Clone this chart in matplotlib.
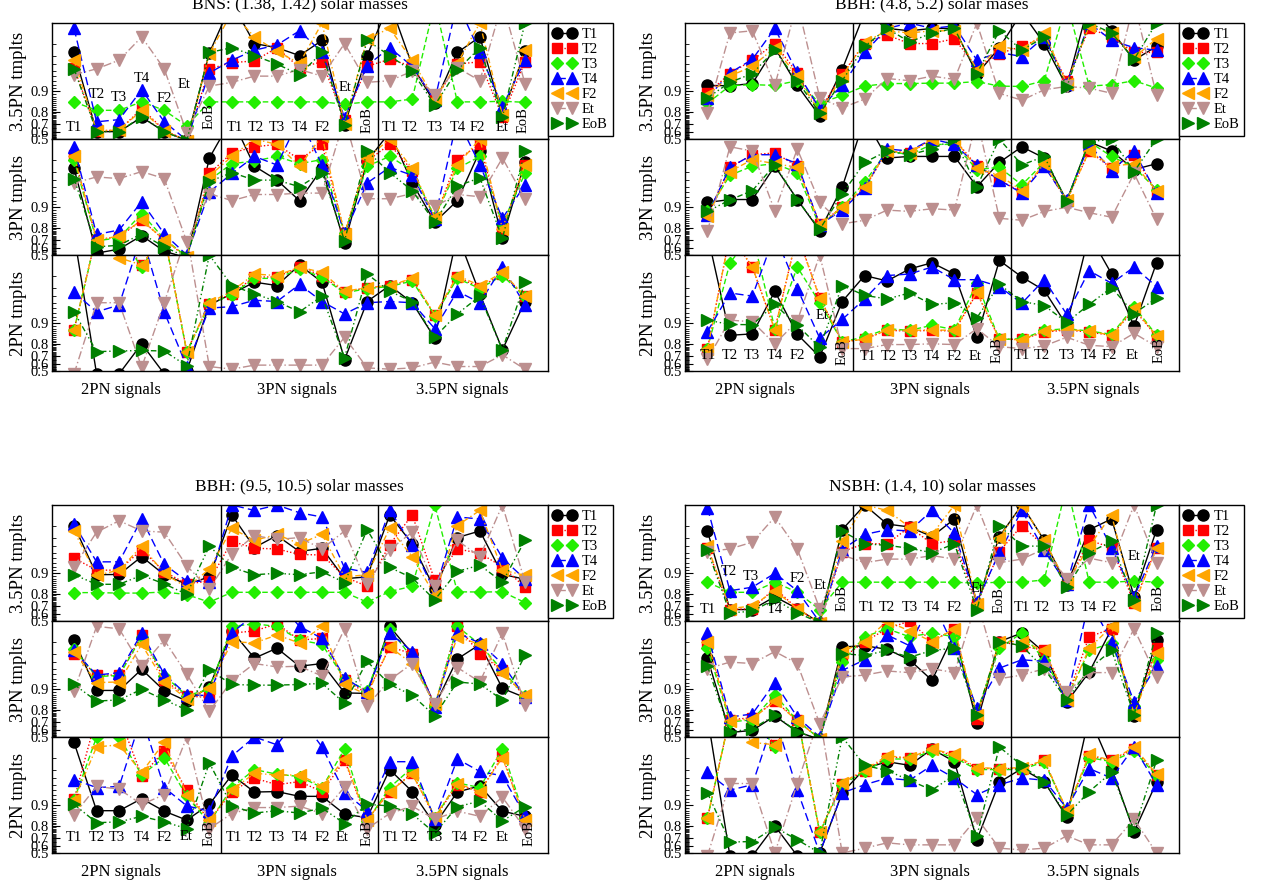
import matplotlib
matplotlib.use('Agg')
import matplotlib.pyplot as plt
import numpy as np
from matplotlib.ticker import FixedLocator, FixedFormatter
from matplotlib.transforms import blended_transform_factory

plt.rcParams['font.family'] = ['Liberation Serif', 'DejaVu Serif']

templates = ['T1', 'T2', 'T3', 'T4', 'F2', 'Et', 'EoB']
row_names = ['3.5PN tmplts', '3PN tmplts', '2PN tmplts']
signal_names = ['2PN signals', '3PN signals', '3.5PN signals']
titles = ['BNS: (1.38, 1.42) solar masses', 'BBH: (4.8, 5.2) solar mases',
          'BBH: (9.5, 10.5) solar masses', 'NSBH: (1.4, 10) solar masses']

# match values, one list per template, 21 signals (2PN x7, 3PN x7, 3.5PN x7)
bns_35 = [
    [0.973, 0.61, 0.61, 0.76, 0.61, 0.48, 0.9725, 0.995, 0.980, 0.977, 0.970, 0.982, 0.69, 0.97, 0.995, 0.958, 0.85, 0.973, 0.984, 0.78, 0.974],
    [0.955, 0.62, 0.63, 0.82, 0.63, 0.47, 0.953, 0.962, 0.964, 0.977, 0.955, 0.963, 0.74, 0.957, 0.966, 0.957, 0.865, 0.96, 0.963, 0.765, 0.963],
    [0.857, 0.81, 0.81, 0.857, 0.81, 0.68, 0.857, 0.857, 0.857, 0.857, 0.857, 0.857, 0.845, 0.857, 0.857, 0.87, 0.995, 0.857, 0.857, 0.86, 0.855],
    [0.988, 0.72, 0.74, 0.905, 0.72, 0.48, 0.946, 0.965, 0.975, 0.979, 0.987, 0.973, 0.755, 0.958, 0.977, 0.957, 0.865, 0.995, 0.973, 0.83, 0.965],
    [0.965, 0.62, 0.63, 0.81, 0.62, 0.47, 0.972, 0.993, 0.984, 0.974, 0.961, 0.99, 0.70, 0.983, 0.988, 0.965, 0.87, 0.961, 0.99, 0.775, 0.975],
    [0.943, 0.953, 0.965, 0.984, 0.953, 0.595, 0.916, 0.926, 0.94, 0.94, 0.952, 0.94, 0.98, 0.926, 0.93, 0.949, 0.885, 0.955, 0.93, 0.995, 0.923],
    [0.953, 0.61, 0.61, 0.765, 0.61, 0.47, 0.973, 0.977, 0.97, 0.96, 0.943, 0.973, 0.69, 0.982, 0.97, 0.949, 0.84, 0.951, 0.977, 0.76, 0.99],
]
bns_3 = [
    [0.973, 0.53, 0.59, 0.74, 0.56, 0.45, 0.981, 0.995, 0.975, 0.96, 0.92, 0.973, 0.665, 0.979, 0.992, 0.956, 0.835, 0.92, 0.985, 0.715, 0.978],
    [0.983, 0.70, 0.73, 0.845, 0.70, 0.46, 0.968, 0.984, 0.987, 0.988, 0.98, 0.988, 0.76, 0.979, 0.988, 0.971, 0.855, 0.98, 0.988, 0.795, 0.976],
    [0.98, 0.69, 0.72, 0.876, 0.71, 0.47, 0.96, 0.977, 0.979, 0.982, 0.977, 0.98, 0.76, 0.975, 0.982, 0.971, 0.86, 0.973, 0.982, 0.825, 0.968],
    [0.987, 0.75, 0.785, 0.917, 0.755, 0.5, 0.94, 0.968, 0.982, 0.976, 0.995, 0.976, 0.76, 0.956, 0.974, 0.966, 0.85, 0.995, 0.976, 0.855, 0.953],
    [0.982, 0.70, 0.735, 0.845, 0.70, 0.47, 0.965, 0.982, 0.99, 0.988, 0.975, 0.991, 0.75, 0.981, 0.99, 0.973, 0.86, 0.976, 0.99, 0.795, 0.976],
    [0.956, 0.964, 0.962, 0.97, 0.962, 0.68, 0.937, 0.92, 0.935, 0.935, 0.938, 0.938, 0.995, 0.925, 0.925, 0.937, 0.903, 0.935, 0.93, 0.981, 0.925],
    [0.962, 0.62, 0.64, 0.755, 0.62, 0.46, 0.958, 0.969, 0.96, 0.96, 0.95, 0.969, 0.69, 0.985, 0.969, 0.943, 0.835, 0.951, 0.963, 0.715, 0.985],
]
bns_2 = [
    [0.995, 0.45, 0.45, 0.80, 0.45, 0.5, 0.946, 0.963, 0.975, 0.972, 0.986, 0.975, 0.66, 0.952, 0.972, 0.95, 0.835, 0.995, 0.963, 0.755, 0.952],
    [0.875, 0.995, 0.995, 0.986, 0.995, 0.74, 0.948, 0.963, 0.979, 0.979, 0.985, 0.98, 0.965, 0.97, 0.972, 0.977, 0.924, 0.979, 0.97, 0.981, 0.96],
    [0.873, 0.995, 0.995, 0.985, 0.995, 0.735, 0.947, 0.962, 0.978, 0.978, 0.984, 0.979, 0.964, 0.969, 0.971, 0.976, 0.923, 0.978, 0.969, 0.98, 0.959],
    [0.965, 0.932, 0.946, 0.995, 0.932, 0.57, 0.94, 0.943, 0.954, 0.952, 0.973, 0.952, 0.927, 0.95, 0.952, 0.95, 0.88, 0.966, 0.95, 0.985, 0.946],
    [0.875, 0.995, 0.989, 0.986, 0.995, 0.74, 0.95, 0.966, 0.981, 0.98, 0.985, 0.982, 0.966, 0.97, 0.972, 0.978, 0.925, 0.98, 0.972, 0.982, 0.96],
    [0.45, 0.95, 0.95, 0.56, 0.95, 0.995, 0.57, 0.53, 0.59, 0.59, 0.59, 0.59, 0.84, 0.55, 0.53, 0.55, 0.63, 0.57, 0.57, 0.71, 0.53],
    [0.932, 0.74, 0.745, 0.75, 0.745, 0.58, 0.99, 0.972, 0.963, 0.952, 0.932, 0.96, 0.68, 0.981, 0.966, 0.952, 0.84, 0.927, 0.96, 0.755, 0.975],
]

b48_35 = [
    [0.918, 0.917, 0.923, 0.977, 0.918, 0.77, 0.952, 0.993, 0.988, 0.987, 0.988, 0.988, 0.944, 0.977, 0.993, 0.98, 0.915, 0.995, 0.987, 0.965, 0.978],
    [0.893, 0.945, 0.965, 0.98, 0.946, 0.81, 0.944, 0.98, 0.985, 0.98, 0.98, 0.983, 0.955, 0.972, 0.978, 0.984, 0.93, 0.988, 0.984, 0.973, 0.973],
    [0.85, 0.917, 0.92, 0.918, 0.93, 0.85, 0.885, 0.916, 0.923, 0.923, 0.924, 0.924, 0.928, 0.916, 0.915, 0.93, 0.995, 0.916, 0.92, 0.93, 0.91],
    [0.875, 0.946, 0.966, 0.988, 0.947, 0.82, 0.918, 0.973, 0.988, 0.99, 0.988, 0.989, 0.965, 0.973, 0.969, 0.984, 0.923, 0.99, 0.982, 0.977, 0.975],
    [0.885, 0.94, 0.957, 0.977, 0.94, 0.79, 0.94, 0.981, 0.987, 0.986, 0.987, 0.987, 0.952, 0.978, 0.975, 0.986, 0.923, 0.989, 0.986, 0.968, 0.983],
    [0.795, 0.986, 0.987, 0.918, 0.995, 0.876, 0.825, 0.87, 0.935, 0.93, 0.94, 0.933, 0.99, 0.893, 0.865, 0.905, 0.915, 0.91, 0.893, 0.995, 0.885],
    [0.875, 0.926, 0.945, 0.975, 0.93, 0.79, 0.93, 0.978, 0.988, 0.981, 0.986, 0.988, 0.945, 0.987, 0.975, 0.984, 0.913, 0.99, 0.986, 0.966, 0.99],
]
b48_3 = [
    [0.915, 0.923, 0.923, 0.975, 0.923, 0.78, 0.949, 0.995, 0.981, 0.982, 0.982, 0.982, 0.95, 0.978, 0.987, 0.981, 0.92, 0.989, 0.985, 0.972, 0.977],
    [0.87, 0.974, 0.983, 0.984, 0.975, 0.825, 0.9, 0.947, 0.985, 0.984, 0.99, 0.99, 0.975, 0.96, 0.94, 0.976, 0.92, 0.985, 0.973, 0.983, 0.94],
    [0.885, 0.966, 0.975, 0.977, 0.969, 0.81, 0.9, 0.957, 0.985, 0.983, 0.988, 0.988, 0.972, 0.974, 0.953, 0.978, 0.92, 0.989, 0.982, 0.974, 0.945],
    [0.87, 0.974, 0.983, 0.983, 0.977, 0.82, 0.89, 0.947, 0.986, 0.985, 0.99, 0.988, 0.976, 0.96, 0.938, 0.975, 0.921, 0.988, 0.971, 0.985, 0.938],
    [0.865, 0.97, 0.98, 0.977, 0.974, 0.823, 0.9, 0.95, 0.985, 0.984, 0.99, 0.99, 0.973, 0.966, 0.943, 0.977, 0.921, 0.985, 0.975, 0.977, 0.942],
    [0.775, 0.987, 0.985, 0.887, 0.986, 0.915, 0.825, 0.845, 0.89, 0.885, 0.895, 0.89, 0.995, 0.855, 0.845, 0.885, 0.9, 0.88, 0.86, 0.968, 0.85],
    [0.885, 0.922, 0.943, 0.976, 0.922, 0.79, 0.936, 0.978, 0.985, 0.983, 0.986, 0.99, 0.95, 0.99, 0.976, 0.982, 0.918, 0.989, 0.99, 0.97, 0.99],
]
b48_2 = [
    [0.995, 0.85, 0.857, 0.966, 0.855, 0.69, 0.952, 0.98, 0.976, 0.984, 0.987, 0.981, 0.84, 0.988, 0.979, 0.967, 0.893, 0.995, 0.981, 0.89, 0.987],
    [0.76, 0.995, 0.985, 0.876, 0.995, 0.958, 0.81, 0.83, 0.873, 0.87, 0.873, 0.87, 0.964, 0.83, 0.828, 0.865, 0.875, 0.865, 0.85, 0.937, 0.845],
    [0.765, 0.987, 0.995, 0.88, 0.985, 0.95, 0.815, 0.84, 0.88, 0.873, 0.893, 0.876, 0.974, 0.828, 0.83, 0.873, 0.88, 0.87, 0.855, 0.943, 0.85],
    [0.868, 0.964, 0.96, 0.995, 0.969, 0.835, 0.912, 0.956, 0.98, 0.981, 0.985, 0.977, 0.977, 0.971, 0.949, 0.977, 0.926, 0.983, 0.974, 0.985, 0.971],
    [0.76, 0.995, 0.985, 0.876, 0.995, 0.957, 0.815, 0.828, 0.875, 0.873, 0.875, 0.873, 0.965, 0.83, 0.825, 0.87, 0.876, 0.87, 0.85, 0.94, 0.845],
    [0.665, 0.91, 0.905, 0.8, 0.907, 0.99, 0.765, 0.765, 0.795, 0.795, 0.8, 0.795, 0.88, 0.78, 0.765, 0.785, 0.84, 0.79, 0.78, 0.86, 0.78],
    [0.91, 0.896, 0.895, 0.947, 0.893, 0.775, 0.972, 0.961, 0.956, 0.964, 0.947, 0.95, 0.917, 0.973, 0.952, 0.945, 0.903, 0.947, 0.97, 0.928, 0.957],
]

b95_35 = [
    [0.98, 0.895, 0.896, 0.943, 0.895, 0.855, 0.887, 0.986, 0.958, 0.972, 0.952, 0.957, 0.88, 0.887, 0.986, 0.963, 0.83, 0.97, 0.976, 0.896, 0.878],
    [0.94, 0.91, 0.91, 0.955, 0.905, 0.857, 0.87, 0.966, 0.957, 0.956, 0.947, 0.946, 0.887, 0.845, 0.962, 0.986, 0.873, 0.956, 0.949, 0.92, 0.84],
    [0.808, 0.808, 0.805, 0.805, 0.812, 0.795, 0.735, 0.81, 0.81, 0.81, 0.81, 0.81, 0.81, 0.735, 0.815, 0.845, 0.99, 0.813, 0.812, 0.813, 0.732],
    [0.981, 0.932, 0.932, 0.984, 0.926, 0.87, 0.868, 0.99, 0.988, 0.99, 0.987, 0.985, 0.916, 0.903, 0.988, 0.962, 0.813, 0.985, 0.984, 0.94, 0.878],
    [0.976, 0.893, 0.91, 0.96, 0.9, 0.838, 0.913, 0.978, 0.967, 0.973, 0.963, 0.973, 0.887, 0.895, 0.978, 0.943, 0.79, 0.98, 0.988, 0.91, 0.893],
    [0.92, 0.975, 0.983, 0.976, 0.975, 0.922, 0.83, 0.948, 0.972, 0.968, 0.97, 0.956, 0.976, 0.857, 0.955, 0.975, 0.845, 0.967, 0.943, 0.99, 0.865],
    [0.895, 0.855, 0.855, 0.893, 0.857, 0.797, 0.96, 0.918, 0.895, 0.9, 0.895, 0.905, 0.863, 0.977, 0.918, 0.883, 0.755, 0.906, 0.924, 0.865, 0.967],
]
b95_3 = [
    [0.981, 0.896, 0.896, 0.949, 0.895, 0.851, 0.907, 0.986, 0.965, 0.975, 0.954, 0.958, 0.887, 0.885, 0.988, 0.97, 0.825, 0.964, 0.978, 0.903, 0.868],
    [0.97, 0.938, 0.938, 0.984, 0.927, 0.873, 0.87, 0.985, 0.986, 0.989, 0.981, 0.982, 0.927, 0.885, 0.976, 0.97, 0.83, 0.988, 0.97, 0.947, 0.87],
    [0.974, 0.935, 0.937, 0.983, 0.937, 0.876, 0.9, 0.988, 0.989, 0.988, 0.981, 0.978, 0.93, 0.895, 0.987, 0.965, 0.825, 0.988, 0.978, 0.947, 0.876],
    [0.973, 0.938, 0.943, 0.985, 0.94, 0.88, 0.876, 0.985, 0.992, 0.995, 0.988, 0.982, 0.932, 0.89, 0.985, 0.972, 0.82, 0.985, 0.979, 0.958, 0.87],
    [0.972, 0.92, 0.922, 0.978, 0.923, 0.863, 0.903, 0.98, 0.979, 0.984, 0.979, 0.988, 0.915, 0.88, 0.976, 0.958, 0.835, 0.983, 0.978, 0.942, 0.88],
    [0.894, 0.988, 0.987, 0.954, 0.981, 0.94, 0.79, 0.925, 0.958, 0.953, 0.954, 0.936, 0.987, 0.825, 0.927, 0.958, 0.838, 0.952, 0.922, 0.985, 0.83],
    [0.915, 0.851, 0.857, 0.9, 0.857, 0.8, 0.948, 0.915, 0.913, 0.913, 0.915, 0.918, 0.84, 0.961, 0.915, 0.878, 0.755, 0.922, 0.916, 0.857, 0.968],
]
b95_2 = [
    [0.988, 0.88, 0.88, 0.92, 0.878, 0.835, 0.903, 0.964, 0.936, 0.937, 0.926, 0.926, 0.865, 0.848, 0.97, 0.937, 0.808, 0.936, 0.948, 0.878, 0.855],
    [0.918, 0.995, 0.995, 0.963, 0.984, 0.94, 0.83, 0.937, 0.96, 0.95, 0.955, 0.937, 0.978, 0.835, 0.937, 0.966, 0.848, 0.95, 0.937, 0.981, 0.835],
    [0.916, 0.99, 0.99, 0.964, 0.98, 0.926, 0.82, 0.945, 0.97, 0.965, 0.962, 0.945, 0.985, 0.83, 0.945, 0.972, 0.848, 0.953, 0.945, 0.985, 0.845],
    [0.958, 0.945, 0.947, 0.995, 0.945, 0.898, 0.878, 0.981, 0.99, 0.987, 0.995, 0.986, 0.935, 0.88, 0.977, 0.977, 0.84, 0.979, 0.968, 0.963, 0.86],
    [0.916, 0.986, 0.987, 0.967, 0.988, 0.93, 0.835, 0.94, 0.966, 0.964, 0.964, 0.948, 0.979, 0.838, 0.937, 0.965, 0.855, 0.952, 0.937, 0.98, 0.838],
    [0.862, 0.947, 0.942, 0.903, 0.93, 0.99, 0.78, 0.868, 0.892, 0.892, 0.897, 0.868, 0.946, 0.78, 0.868, 0.897, 0.84, 0.878, 0.855, 0.924, 0.78],
    [0.903, 0.82, 0.825, 0.855, 0.825, 0.78, 0.976, 0.898, 0.87, 0.88, 0.87, 0.89, 0.815, 0.903, 0.898, 0.866, 0.745, 0.895, 0.913, 0.83, 0.895],
]

ns_35 = [
    [0.976, 0.66, 0.66, 0.78, 0.67, 0.47, 0.977, 0.99, 0.981, 0.979, 0.971, 0.984, 0.72, 0.971, 0.99, 0.967, 0.851, 0.977, 0.984, 0.78, 0.977],
    [0.958, 0.66, 0.67, 0.835, 0.67, 0.47, 0.952, 0.963, 0.963, 0.979, 0.963, 0.967, 0.72, 0.952, 0.98, 0.96, 0.855, 0.967, 0.958, 0.73, 0.958],
    [0.865, 0.81, 0.81, 0.865, 0.81, 0.66, 0.865, 0.865, 0.865, 0.865, 0.865, 0.865, 0.86, 0.865, 0.865, 0.875, 0.995, 0.865, 0.865, 0.87, 0.865],
    [0.989, 0.82, 0.84, 0.9, 0.82, 0.48, 0.955, 0.973, 0.977, 0.976, 0.988, 0.974, 0.74, 0.95, 0.988, 0.954, 0.855, 0.99, 0.958, 0.78, 0.96],
    [0.96, 0.67, 0.7, 0.82, 0.67, 0.47, 0.966, 0.99, 0.988, 0.979, 0.973, 0.99, 0.72, 0.97, 0.99, 0.967, 0.86, 0.96, 0.986, 0.71, 0.958],
    [0.952, 0.956, 0.965, 0.985, 0.956, 0.67, 0.946, 0.93, 0.938, 0.938, 0.945, 0.938, 0.99, 0.93, 0.938, 0.956, 0.88, 0.94, 0.93, 0.99, 0.93],
    [0.954, 0.62, 0.64, 0.76, 0.62, 0.47, 0.976, 0.963, 0.961, 0.957, 0.95, 0.963, 0.66, 0.98, 0.96, 0.96, 0.84, 0.95, 0.966, 0.75, 0.99],
]
ns_3 = [
    [0.965, 0.57, 0.6, 0.754, 0.58, 0.46, 0.976, 0.977, 0.974, 0.963, 0.926, 0.985, 0.69, 0.98, 0.985, 0.971, 0.846, 0.944, 0.987, 0.754, 0.981],
    [0.98, 0.72, 0.74, 0.85, 0.72, 0.47, 0.965, 0.98, 0.987, 0.99, 0.98, 0.987, 0.73, 0.98, 0.977, 0.973, 0.864, 0.983, 0.987, 0.786, 0.975],
    [0.975, 0.7, 0.72, 0.88, 0.71, 0.47, 0.96, 0.983, 0.987, 0.983, 0.985, 0.983, 0.786, 0.975, 0.985, 0.963, 0.864, 0.973, 0.979, 0.824, 0.963],
    [0.985, 0.745, 0.77, 0.92, 0.745, 0.5, 0.947, 0.963, 0.984, 0.977, 0.995, 0.975, 0.81, 0.951, 0.963, 0.961, 0.857, 0.995, 0.98, 0.846, 0.955],
    [0.98, 0.71, 0.73, 0.85, 0.71, 0.47, 0.972, 0.98, 0.99, 0.986, 0.98, 0.987, 0.76, 0.98, 0.98, 0.973, 0.857, 0.975, 0.988, 0.765, 0.971],
    [0.95, 0.96, 0.958, 0.972, 0.958, 0.68, 0.934, 0.938, 0.946, 0.943, 0.95, 0.943, 0.995, 0.93, 0.938, 0.95, 0.89, 0.943, 0.943, 0.987, 0.935],
    [0.954, 0.58, 0.62, 0.76, 0.58, 0.46, 0.97, 0.968, 0.973, 0.966, 0.973, 0.975, 0.76, 0.98, 0.977, 0.95, 0.857, 0.95, 0.973, 0.765, 0.985],
]
ns_2 = [
    [0.995, 0.45, 0.45, 0.80, 0.45, 0.5, 0.934, 0.971, 0.977, 0.974, 0.985, 0.977, 0.68, 0.954, 0.971, 0.955, 0.851, 0.995, 0.971, 0.754, 0.954],
    [0.846, 0.995, 0.995, 0.987, 0.995, 0.754, 0.952, 0.969, 0.98, 0.98, 0.985, 0.981, 0.971, 0.971, 0.971, 0.978, 0.88, 0.981, 0.978, 0.985, 0.964],
    [0.845, 0.995, 0.995, 0.986, 0.995, 0.75, 0.95, 0.968, 0.979, 0.979, 0.984, 0.98, 0.97, 0.97, 0.97, 0.977, 0.878, 0.98, 0.977, 0.984, 0.963],
    [0.967, 0.94, 0.95, 0.995, 0.94, 0.5, 0.934, 0.95, 0.96, 0.957, 0.974, 0.96, 0.93, 0.95, 0.96, 0.957, 0.89, 0.971, 0.96, 0.986, 0.95],
    [0.846, 0.995, 0.988, 0.987, 0.995, 0.754, 0.953, 0.97, 0.981, 0.98, 0.985, 0.982, 0.972, 0.971, 0.972, 0.978, 0.882, 0.982, 0.978, 0.986, 0.965],
    [0.45, 0.952, 0.952, 0.5, 0.952, 0.995, 0.5, 0.575, 0.645, 0.62, 0.62, 0.62, 0.846, 0.575, 0.55, 0.575, 0.72, 0.62, 0.62, 0.84, 0.5],
    [0.934, 0.655, 0.66, 0.79, 0.68, 0.5, 0.99, 0.974, 0.969, 0.957, 0.94, 0.964, 0.72, 0.986, 0.974, 0.954, 0.86, 0.937, 0.967, 0.77, 0.978],
]

# in-panel template names: (x, y as axes fraction, text)
bns_labels = [(0, 0.095, 'T1'), (1, 0.38, 'T2'), (2, 0.36, 'T3'), (3, 0.52, 'T4'), (4, 0.35, 'F2'),
              (4.9, 0.47, 'Et'), (6, 0.2, 'EoB'),
              (7.15, 0.095, 'T1'), (8.05, 0.095, 'T2'), (9, 0.095, 'T3'), (10, 0.095, 'T4'), (11, 0.095, 'F2'),
              (12, 0.44, 'Et'), (13, 0.16, 'EoB'),
              (14, 0.095, 'T1'), (14.9, 0.095, 'T2'), (16, 0.095, 'T3'), (17, 0.095, 'T4'), (17.9, 0.095, 'F2'),
              (19, 0.095, 'Et'), (19.9, 0.16, 'EoB')]
b48_labels = [(0, 0.13, 'T1'), (1, 0.13, 'T2'), (2, 0.13, 'T3'), (3, 0.13, 'T4'), (4, 0.13, 'F2'),
              (5.1, 0.48, 'Et'), (6, 0.16, 'EoB'),
              (7.13, 0.123, 'T1'), (8.09, 0.123, 'T2'), (9, 0.123, 'T3'), (10, 0.123, 'T4'), (11, 0.123, 'F2'),
              (11.9, 0.123, 'Et'), (12.9, 0.18, 'EoB'),
              (14, 0.13, 'T1'), (14.9, 0.13, 'T2'), (16, 0.13, 'T3'), (17, 0.13, 'T4'), (17.9, 0.13, 'F2'),
              (18.9, 0.13, 'Et'), (20.1, 0.18, 'EoB')]
b95_labels = [(0, 0.13, 'T1'), (1, 0.13, 'T2'), (1.9, 0.13, 'T3'), (3, 0.13, 'T4'), (4, 0.13, 'F2'),
              (4.95, 0.14, 'Et'), (6, 0.175, 'EoB'),
              (7.1, 0.13, 'T1'), (8, 0.13, 'T2'), (9, 0.13, 'T3'), (10, 0.13, 'T4'), (11, 0.13, 'F2'),
              (11.9, 0.13, 'Et'), (13, 0.175, 'EoB'),
              (14.05, 0.13, 'T1'), (14.9, 0.13, 'T2'), (16, 0.13, 'T3'), (17.1, 0.13, 'T4'), (18, 0.13, 'F2'),
              (19, 0.13, 'Et'), (20.2, 0.175, 'EoB')]
ns_labels = [(0, 0.1, 'T1'), (0.95, 0.43, 'T2'), (1.95, 0.38, 'T3'), (3, 0.1, 'T4'), (4, 0.37, 'F2'),
             (5, 0.31, 'Et'), (6, 0.2, 'EoB'),
             (7.1, 0.12, 'T1'), (8, 0.12, 'T2'), (9, 0.12, 'T3'), (10, 0.12, 'T4'), (11, 0.12, 'F2'),
             (12, 0.28, 'Et'), (13, 0.18, 'EoB'),
             (14, 0.12, 'T1'), (14.9, 0.12, 'T2'), (16, 0.12, 'T3'), (17, 0.12, 'T4'), (17.9, 0.12, 'F2'),
             (19, 0.56, 'Et'), (20.05, 0.2, 'EoB')]

colors = ['black', 'red', '#22ee00', 'blue', 'orange', 'rosybrown', 'green']
markers = ['o', 's', 'D', '^', '<', 'v', '>']
msizes = [8, 7, 6.5, 8.5, 8.5, 8.5, 8.5]
dashes = ['-', (0, (1, 1.5)), (0, (4, 2)), (0, (6, 3)), (0, (4, 2, 1, 2)), (0, (6, 2, 1, 2)), (0, (4, 2, 1, 2, 1, 2))]

W, H = 1263.0, 888.0
x = np.arange(21)


def fwd(y):
    y = np.asarray(y, dtype=float)
    return -np.log10(np.clip(1.0 - y, 1e-6, None))


def inv(g):
    return 1.0 - 10.0 ** (-np.asarray(g, dtype=float))


def draw_panel(left, top, width, title, rows, labels, label_row, ylab_x):
    rowh = 116.0
    axes = []
    for i in range(3):
        ax = fig.add_axes([left / W, (H - top - rowh * (i + 1)) / H, width / W, rowh / H])
        for k in range(7):
            ax.plot(x, rows[i][k], color=colors[k], ls=dashes[k], lw=1.0,
                    marker=markers[k], ms=msizes[k], mfc=colors[k], mec=colors[k],
                    label=templates[k])
        ax.set_yscale('function', functions=(fwd, inv))
        ax.set_ylim(0.5, 0.99)
        ax.set_xlim(-1, 21)
        ax.axvline(6.5, color='black', lw=1.0)
        ax.axvline(13.5, color='black', lw=1.0)
        ax.set_xticks([])
        ax.yaxis.set_major_locator(FixedLocator([0.5, 0.6, 0.7, 0.8, 0.9]))
        ax.yaxis.set_major_formatter(FixedFormatter(['0.5', '0.6', '0.7', '0.8', '0.9']))
        minors = [v / 100.0 for v in range(51, 100) if v % 10 != 0]
        ax.yaxis.set_minor_locator(FixedLocator(minors))
        ax.tick_params(axis='y', which='major', direction='in', length=6, width=0.8,
                       labelsize=10.5, pad=2, right=False)
        ax.tick_params(axis='y', which='minor', direction='in', length=3, width=0.6, right=False)
        for s in ax.spines.values():
            s.set_linewidth(1.0)
        ax.set_ylabel(row_names[i], fontsize=13.5)
        ax.yaxis.set_label_coords(ylab_x, 0.5)
        axes.append(ax)

    tr = blended_transform_factory(axes[label_row].transData, axes[label_row].transAxes)
    for lx, ly, txt in labels:
        rot = 90 if txt == 'EoB' else 0
        axes[label_row].text(lx, ly, txt, transform=tr, ha='center', va='center',
                             fontsize=10.5, rotation=rot)

    trb = blended_transform_factory(axes[2].transData, axes[2].transAxes)
    for sx, name in zip([2.1, 9.9, 17.2], signal_names):
        axes[2].text(sx, -0.165, name, transform=trb, ha='center', va='center', fontsize=12)

    axes[0].legend(loc='upper left', bbox_to_anchor=(1.0, 1.0), borderaxespad=0,
                   numpoints=2, handlelength=1.6, handletextpad=0.4, labelspacing=0.12,
                   borderpad=0.35, fontsize=10.5, fancybox=False, edgecolor='black',
                   framealpha=1)
    fig.text((left + width / 2) / W, (H - top + 19) / H, title, ha='center', va='center',
             fontsize=12.5)


fig = plt.figure(figsize=(12.63, 8.88), dpi=100)

draw_panel(51.5, 23, 496, titles[0], [bns_35, bns_3, bns_2], bns_labels, 0, -0.05)
draw_panel(685, 23, 494, titles[1], [b48_35, b48_3, b48_2], b48_labels, 2, -0.057)
draw_panel(51.5, 505, 496, titles[2], [b95_35, b95_3, b95_2], b95_labels, 2, -0.05)
draw_panel(685, 505, 494, titles[3], [ns_35, ns_3, ns_2], ns_labels, 0, -0.057)

fig.savefig('out.png', dpi=100)
